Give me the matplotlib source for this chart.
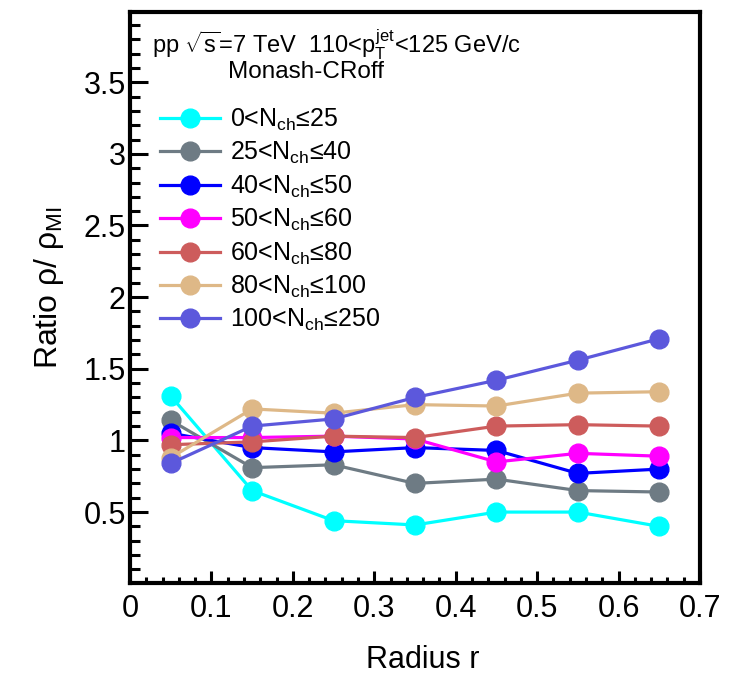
import numpy as np
import matplotlib
matplotlib.use("Agg")
import matplotlib.pyplot as plt

plt.rcParams['font.family'] = ['Liberation Sans', 'DejaVu Sans']
plt.rcParams['mathtext.fontset'] = 'custom'
plt.rcParams['mathtext.rm'] = 'Liberation Sans'
plt.rcParams['mathtext.it'] = 'Liberation Sans'
plt.rcParams['mathtext.bf'] = 'Liberation Sans:bold'

# radius bin centres
radius = [0.05, 0.15, 0.25, 0.35, 0.45, 0.55, 0.65]

# ratio rho / rho_MI per multiplicity class
r_0_25 = [1.31, 0.65, 0.44, 0.41, 0.50, 0.50, 0.40]
r_25_40 = [1.14, 0.81, 0.83, 0.70, 0.73, 0.65, 0.64]
r_40_50 = [1.05, 0.95, 0.92, 0.95, 0.93, 0.77, 0.80]
r_50_60 = [1.02, 1.02, 1.03, 1.01, 0.85, 0.91, 0.89]
r_60_80 = [0.97, 0.99, 1.03, 1.02, 1.10, 1.11, 1.10]
r_80_100 = [0.88, 1.22, 1.19, 1.25, 1.24, 1.33, 1.34]
r_100_250 = [0.84, 1.10, 1.15, 1.30, 1.42, 1.56, 1.71]

labels = [r'0<$N_{\mathrm{ch}}$≤25', r'25<$N_{\mathrm{ch}}$≤40', r'40<$N_{\mathrm{ch}}$≤50',
          r'50<$N_{\mathrm{ch}}$≤60', r'60<$N_{\mathrm{ch}}$≤80', r'80<$N_{\mathrm{ch}}$≤100',
          r'100<$N_{\mathrm{ch}}$≤250']
series = [r_0_25, r_25_40, r_40_50, r_50_60, r_60_80, r_80_100, r_100_250]
colors = ['#00ffff', '#6e7b84', '#0000ff', '#ff00ff', '#cd5c5c', '#deb887', '#5c58dc']

fig = plt.figure(figsize=(7.42, 6.84), dpi=100)
ax = fig.add_axes([130/742, 1-583/684, 570/742, 571/684])

for vals, lab, c in zip(series, labels, colors):
    ax.plot(radius, vals, '-o', color=c, lw=2.3, ms=13.5, mec=c, label=lab)

ax.set_xlim(0, 0.7)
ax.set_ylim(0.005, 3.99)
ax.set_xticks(np.arange(0, 0.71, 0.1))
ax.set_xticks(np.arange(0, 0.701, 0.02), minor=True)
ax.set_yticks(np.arange(0.5, 3.6, 0.5))
ax.set_yticks(np.arange(0.1, 3.95, 0.1), minor=True)
ax.set_xticklabels(['0', '0.1', '0.2', '0.3', '0.4', '0.5', '0.6', '0.7'])
ax.set_yticklabels(['0.5', '1', '1.5', '2', '2.5', '3', '3.5'])

for s in ax.spines.values():
    s.set_linewidth(3)
ax.tick_params(axis='both', which='both', direction='in', width=2.2, labelsize=22)
ax.tick_params(axis='y', which='major', length=13, pad=3)
ax.tick_params(axis='y', which='minor', length=7)
ax.tick_params(axis='x', which='major', length=8.5, pad=8)
ax.tick_params(axis='x', which='minor', length=4.5)

ax.set_xlabel('Radius r', fontsize=22)
ax.xaxis.set_label_coords(0.514, -0.108)
ax.set_ylabel(r'Ratio $\rho$/ $\rho_{\mathrm{MI}}$', fontsize=23)
ax.yaxis.set_label_coords(-0.112, 0.517)

ax.text(152, 684-45, r'pp $\sqrt{s}$=7 TeV  110<$p_{\mathrm{T}}^{\mathrm{jet}}$<125 GeV/c',
        transform=None, fontsize=17, va='center', ha='left')
ax.text(228, 684-72, 'Monash-CRoff', transform=None, fontsize=17.5, va='center', ha='left')

ax.legend(loc='upper left', bbox_to_anchor=(0.035, 0.852), frameon=False, fontsize=18,
          handlelength=2.4, handletextpad=0.4, labelspacing=0.29, borderaxespad=0)

fig.savefig('out.png', dpi=100)
